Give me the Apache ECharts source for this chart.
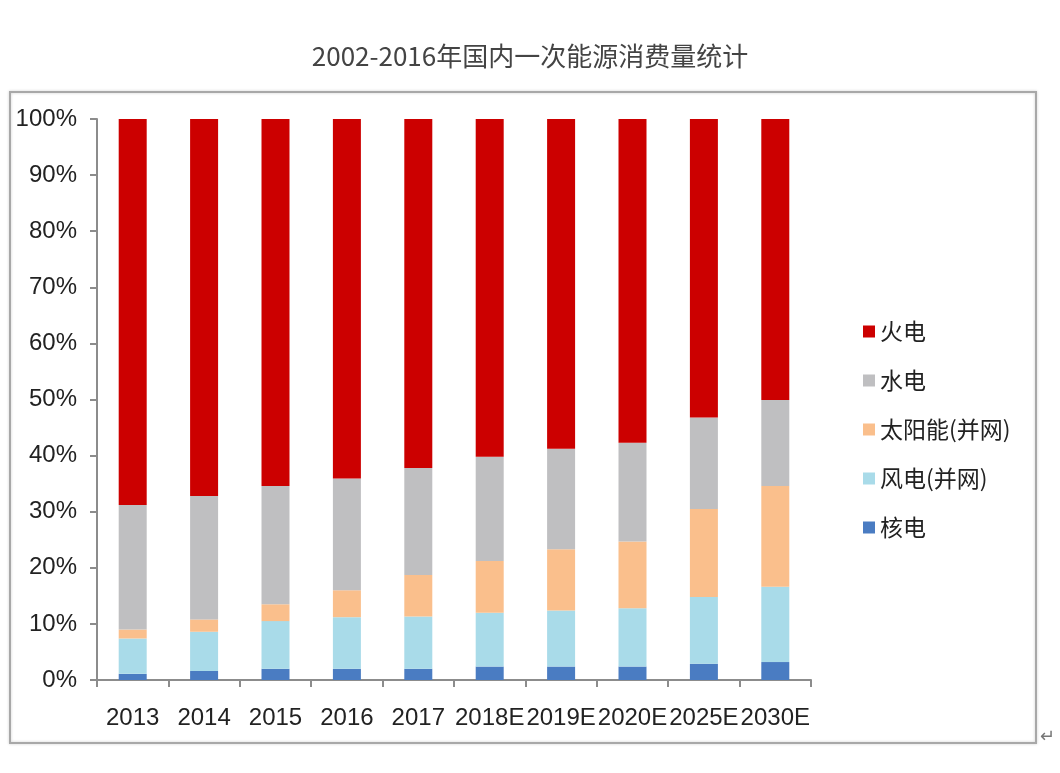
<!DOCTYPE html>
<html>
<head>
<meta charset="utf-8">
<script src="https://cdn.jsdelivr.net/npm/echarts@6/dist/echarts.min.js"></script>
<style>
html,body{margin:0;padding:0;background:#fff;}
#chart{width:1060px;height:773px;}
</style>
</head>
<body>
<div id="chart"></div>
<script>
const titleText = '2002-2016年国内一次能源消费量统计';
const categories = ['2013','2014','2015','2016','2017','2018E','2019E','2020E','2025E','2030E'];
const seriesNames = ['核电','风电(并网)','太阳能(并网)','水电','火电'];
const legendOrder = ['火电','水电','太阳能(并网)','风电(并网)','核电'];
const nuclear = [1.1, 1.6, 2.0, 2.0, 2.0, 2.4, 2.4, 2.4, 2.9, 3.2];
const wind    = [6.3, 7.0, 8.5, 9.2, 9.3, 9.6, 10.0, 10.4, 11.9, 13.4];
const solar   = [1.6, 2.2, 3.0, 4.8, 7.4, 9.2, 10.9, 11.9, 15.7, 18.0];
const hydro   = [22.2, 22.0, 21.1, 19.9, 19.1, 18.6, 17.9, 17.6, 16.3, 15.3];
const thermal = [68.8, 67.2, 65.4, 64.1, 62.2, 60.2, 58.8, 57.7, 53.2, 50.1];
const colors = ['#4a7cc2', '#a9dbe9', '#fabf8c', '#bfbfc1', '#cc0000'];

const dataSets = [nuclear, wind, solar, hydro, thermal];
const chart = echarts.init(document.getElementById('chart'));
chart.setOption({
  backgroundColor: '#fff',
  animation: false,
  title: {
    text: titleText,
    left: 'center',
    top: 38,
    textStyle: { fontFamily: 'Noto Sans CJK SC', fontSize: 26, fontWeight: 'normal', color: '#444' }
  },
  graphic: [
    { type: 'rect', shape: { x: 10, y: 92, width: 1026, height: 651 },
      style: { fill: 'none', stroke: '#a8a8a8', lineWidth: 2, shadowBlur: 3, shadowColor: 'rgba(0,0,0,0.2)' }, z: -1 },
    { type: 'text', left: 1040, top: 728, style: { text: '↵', fontSize: 18, fill: '#777' } }
  ],
  legend: {
    data: legendOrder,
    orient: 'vertical',
    left: 858,
    top: 315,
    itemWidth: 12,
    itemHeight: 12,
    itemGap: 26,
    icon: 'rect',
    textStyle: { fontFamily: 'Noto Sans CJK SC', fontSize: 23, color: '#222', padding: [0, 0, 0, 0] }
  },
  grid: { left: 97, top: 119, width: 714, height: 561, containLabel: false },
  xAxis: {
    type: 'category',
    data: categories,
    axisLine: { lineStyle: { color: '#8c8c8c', width: 2 } },
    axisTick: { show: true, length: 7, lineStyle: { color: '#8c8c8c', width: 2 } },
    axisLabel: { interval: 0, fontFamily: 'Liberation Sans, Arial', fontSize: 24, color: '#222', margin: 26 }
  },
  yAxis: {
    type: 'value',
    min: 0, max: 100, interval: 10,
    axisLine: { show: true, lineStyle: { color: '#8c8c8c', width: 2 } },
    axisTick: { show: true, length: 7, lineStyle: { color: '#8c8c8c', width: 2 } },
    splitLine: { show: false },
    axisLabel: { formatter: '{value}%', fontFamily: 'Liberation Sans, Arial', fontSize: 24, color: '#222', margin: 20 }
  },
  series: seriesNames.map((n, i) => ({
    name: n,
    type: 'bar',
    stack: 'total',
    barWidth: 28,
    data: dataSets[i],
    itemStyle: { color: colors[i] }
  }))
});
</script>
</body>
</html>
